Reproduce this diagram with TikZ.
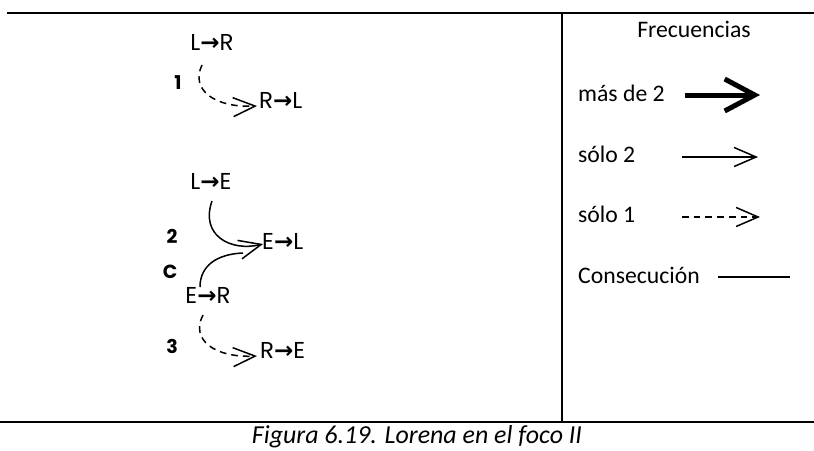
\documentclass[tikz,border=0pt]{standalone}
\usepackage{fontspec}
\setmainfont{Carlito}
\newfontfamily\geofont{Poppins}
\newfontfamily\arrowfont{DejaVu Sans}
\newcommand{\ra}{{\arrowfont\bfseries →}}
\usetikzlibrary{arrows.meta}
\tikzset{
  lbl/.style={font=\geofont\fontsize{23}{26}\selectfont, inner sep=0pt},
  num/.style={font=\geofont\bfseries\fontsize{19}{22}\selectfont, inner sep=0pt},
  leg/.style={font=\fontsize{23.7}{28}\selectfont, inner sep=0pt, anchor=base west},
  frameline/.style={line width=2pt},
  barb/.style={-{Straight Barb[length=22pt,width=19pt]}},
  once/.style={line width=1.5pt, dash pattern=on 6.7pt off 5pt, barb},
  twice/.style={line width=1.5pt, barb},
  consec/.style={line width=1.5pt},
}
\begin{document}
\begin{tikzpicture}[x=1pt,y=-1pt]
\useasboundingbox (0,0) rectangle (814,450);
% frame
\coordinate (tl) at (7,13);
\coordinate (tr) at (814,13);
\coordinate (bl) at (0,422);
\coordinate (br) at (814,422);
\coordinate (vt) at (562,13);
\coordinate (vb) at (562,422);
\draw[frameline] (tl) -- (tr);
\draw[frameline] (bl) -- (br);
\draw[frameline] (vt) -- (vb);

% left diagram labels
\node[lbl] (LR) at (212,42) {L\ra R};
\node[num] (n1) at (178,83) {1};
\node[lbl, anchor=west] (RL) at (259,100) {R\ra L};
\node[lbl] (LE) at (211,181) {L\ra E};
\node[num] (n2) at (172,236) {2};
\node[lbl, anchor=west] (EL) at (262,241) {E\ra L};
\node[num] (nC) at (170,272) {C};
\node[lbl] (ER) at (208,295) {E\ra R};
\node[num] (n3) at (172,346) {3};
\node[lbl, anchor=west] (RE) at (260,350) {R\ra E};

% connectors
\coordinate (a1) at (202,65);
\coordinate (b1) at (257,106);
\draw[once] (a1) .. controls (190,90) and (215,108) .. (b1);

\coordinate (a2) at (212,201);
\coordinate (b2) at (263,244);
\draw[twice] (a2) .. controls (200,235) and (230,252) .. (b2);

\coordinate (ac) at (200,287);
\coordinate (bc) at (243,253);
\draw[consec] (ac) .. controls (200,265) and (218,254) .. (bc);

\coordinate (a3) at (203,315);
\coordinate (b3) at (257,356);
\draw[once] (a3) .. controls (190,340) and (215,358) .. (b3);

% legend
\node[font=\fontsize{23.7}{28}\selectfont, inner sep=0pt, anchor=base] (freq) at (694,37) {Frecuencias};
\node[leg] (m2) at (578,101) {más de 2};
\node[leg] (s2) at (578,162) {sólo 2};
\node[leg] (s1) at (578,222) {sólo 1};
\node[leg] (cs) at (578,283) {Consecución};

\coordinate (m2a) at (685,95);
\coordinate (m2b) at (760,95);
\draw[line width=5pt, -{Straight Barb[length=30pt,width=32pt]}] (m2a) -- (m2b);

\coordinate (s2a) at (682,157);
\coordinate (s2b) at (758,157);
\draw[twice] (s2a) -- (s2b);

\coordinate (s1a) at (682,217);
\coordinate (s1b) at (760,217);
\draw[once] (s1a) -- (s1b);

\coordinate (csa) at (718,277);
\coordinate (csb) at (790,277);
\draw[consec] (csa) -- (csb);

% caption
\node[font=\itshape\fontsize{25.9}{30}\selectfont, inner sep=0pt, anchor=base] (cap) at (417,443) {Figura 6.19. Lorena en el foco II};
\end{tikzpicture}
\end{document}
